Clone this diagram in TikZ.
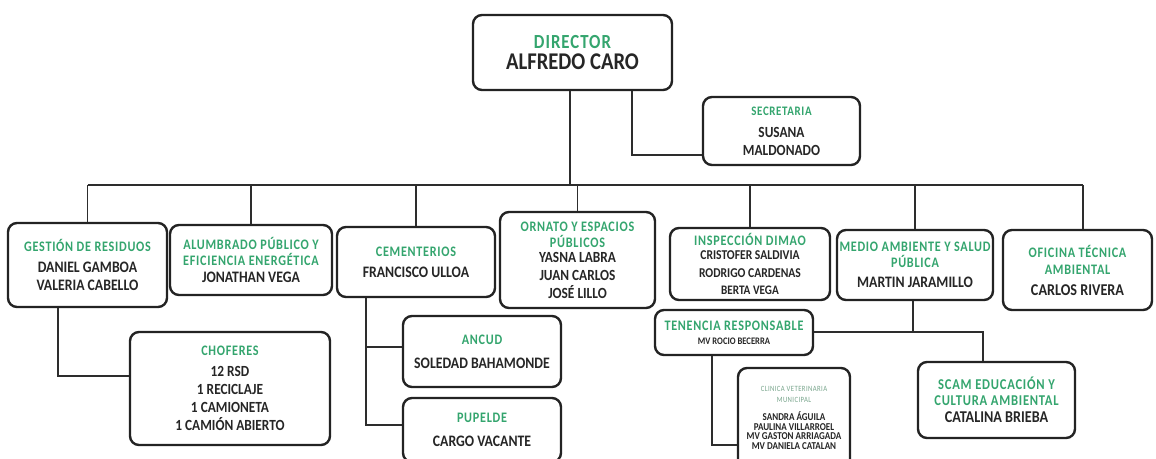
\documentclass[tikz,border=0pt]{standalone}
\usepackage{fontspec}
\setmainfont[FakeStretch=0.86]{Carlito}
\newfontfamily\titlefont[FakeStretch=0.84,LetterSpace=5]{Carlito}
\definecolor{tgreen}{RGB}{52,165,110}
\definecolor{lgreen}{RGB}{120,165,140}
\definecolor{boxc}{RGB}{35,35,35}
\definecolor{linec}{RGB}{45,45,45}
\newcommand\ti[2][14.5]{{\fontsize{#1}{#1}\selectfont\titlefont\bfseries\color{tgreen}#2}}
\newcommand\nm[2][16]{{\fontsize{#1}{#1}\selectfont\bfseries #2}}
\newcommand\obox[7][]{\node[box,minimum width={(#5-#3)*1pt},minimum height={(#6-#4)*1pt},#1] (#2) at ({(#3+#5)/2},{(#4+#6)/2}) {#7};}
\tikzset{
  box/.style={draw=boxc, line width=2.4pt, rounded corners=9pt, fill=white, align=center, inner sep=0pt, font=\fontsize{16}{18}\selectfont, text=black!85},
  link/.style={draw=linec, line width=1.6pt},
}
\begin{document}
\begin{tikzpicture}[x=1pt,y=-1pt]
\useasboundingbox[fill=white] (0,0) rectangle (1156,458);
\coordinate (busL) at (87.5,185);
\coordinate (busR) at (1083,185);
\coordinate (dirj) at (570,185);
\coordinate (secj) at (632,155);
\coordinate (choj) at (58,376);
\coordinate (cemj) at (366,425);
\coordinate (ancj) at (366,347);
\coordinate (medj) at (913,332);
\coordinate (scamj) at (983,332);
\coordinate (tenj) at (712,445);
% boxes
\obox{dir}{473}{15}{672}{90}{\ti[20]{DIRECTOR}\\[3pt]\nm[24]{ALFREDO CARO}}
\obox{sec}{703}{97}{860}{165}{\ti[13]{SECRETARIA}\\[4pt]\nm[15.5]{SUSANA}\\\nm[15.5]{MALDONADO}}
\obox{ges}{8}{223}{167}{307}{\ti{GESTIÓN DE RESIDUOS}\\[3pt]\nm{DANIEL GAMBOA}\\\nm{VALERIA CABELLO}}
\obox{alu}{170}{225}{332}{295}{\ti{ALUMBRADO PÚBLICO Y}\\[-2pt]\ti{EFICIENCIA ENERGÉTICA}\\[-1pt]\nm{JONATHAN VEGA}}
\obox{cem}{337}{227}{495}{297}{\ti{CEMENTERIOS}\\[3pt]\nm{FRANCISCO ULLOA}}
\obox{orn}{500}{212}{655}{308}{\ti{ORNATO Y ESPACIOS}\\[-2pt]\ti{PÚBLICOS}\\[-3pt]\nm[15.5]{YASNA LABRA}\\\nm[15.5]{JUAN CARLOS}\\\nm[15.5]{JOSÉ LILLO}}
\obox{ins}{670}{228}{830}{300}{\ti{INSPECCIÓN DIMAO}\\[-4pt]\nm[13.5]{CRISTOFER SALDIVIA}\\[0pt]\nm[13.5]{RODRIGO CARDENAS}\\[-1pt]\nm[13]{BERTA VEGA}}
\obox{med}{837}{230}{993}{300}{\ti{MEDIO AMBIENTE Y SALUD}\\[-2pt]\ti{PÚBLICA}\\[2pt]\nm{MARTIN JARAMILLO}}
\obox{ofi}{1003}{230}{1152}{310}{\ti{OFICINA TÉCNICA}\\[-1pt]\ti{AMBIENTAL}\\[3pt]\nm[16.5]{CARLOS RIVERA}}
\obox{cho}{130}{332}{330}{445}{\ti{CHOFERES}\\[3pt]\nm[15.5]{12 RSD}\\\nm[15.5]{1 RECICLAJE}\\\nm[15.5]{1 CAMIONETA}\\\nm[15.5]{1 CAMIÓN ABIERTO}}
\obox{anc}{403}{316}{561}{387}{\ti{ANCUD}\\[6pt]\nm{SOLEDAD BAHAMONDE}}
\obox{pup}{403}{398}{561}{462}{\ti{PUPELDE}\\[6pt]\nm{CARGO VACANTE}}
\obox{ten}{655}{310}{813}{355}{\ti{TENENCIA RESPONSABLE}\\[-4pt]\nm[10]{MV ROCIO BECERRA}}
\obox[font=\fontsize{9}{9.5}\selectfont]{cli}{738}{368}{850}{468}{{\fontsize{8}{9}\selectfont\titlefont\color{lgreen}CLINICA VETERINARIA}\\[1pt]{\fontsize{8}{9}\selectfont\titlefont\color{lgreen}MUNICIPAL}\\[9pt]\nm[10.5]{SANDRA ÁGUILA}\\\nm[10.5]{PAULINA VILLARROEL}\\\nm[10.5]{MV GASTON ARRIAGADA}\\\nm[10.5]{MV DANIELA CATALAN}}
\obox{scam}{918}{362}{1075}{438}{\ti[15]{SCAM EDUCACIÓN Y}\\[-2pt]\ti[15]{CULTURA AMBIENTAL}\\[-1pt]\nm[16.5]{CATALINA BRIEBA}}
% connectors
\draw[link] (busL) -- (busR);
\draw[link] (dir.south -| dirj) -- (dirj);
\draw[link] (busL) -- (ges.north);
\draw[link] (alu.north |- busL) -- (alu.north);
\draw[link] (cem.north |- busL) -- (cem.north);
\draw[link] (orn.north |- busL) -- (orn.north);
\draw[link] (ins.north |- busL) -- (ins.north);
\draw[link] (med.north |- busL) -- (med.north);
\draw[link] (busR) -- (busR |- ofi.north);
\draw[link] (dir.south -| secj) -- (secj) -- (sec.west |- secj);
\draw[link] (ges.south -| choj) -- (choj) -- (cho.west |- choj);
\draw[link] (cem.south -| cemj) -- (cemj) -- (pup.west |- cemj);
\draw[link] (ancj) -- (anc.west |- ancj);
\draw[link] (med.south -| medj) -- (medj);
\draw[link] (ten.east |- medj) -- (scamj) -- (scam.north -| scamj);
\draw[link] (ten.south -| tenj) -- (tenj) -- (cli.west |- tenj);
\end{tikzpicture}
\end{document}
